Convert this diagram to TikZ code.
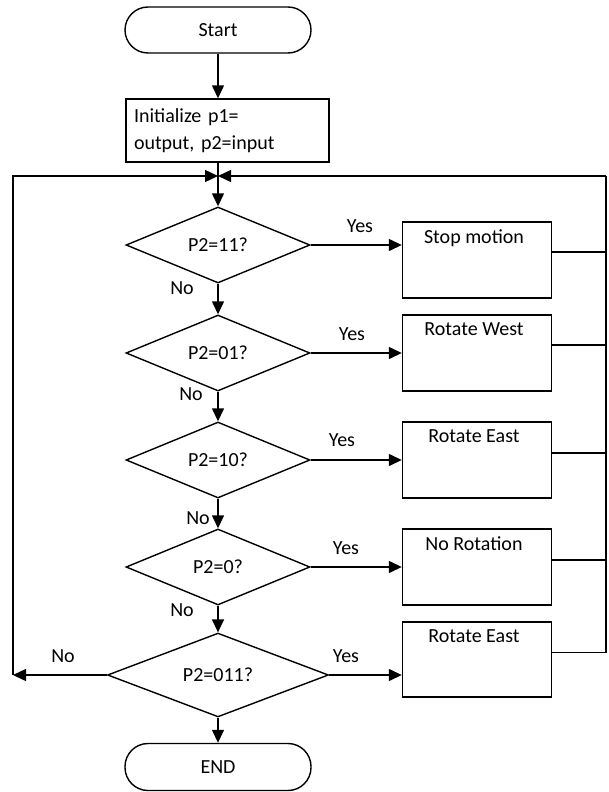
\documentclass[tikz,border=0pt]{standalone}
\usepackage{fontspec}
\setmainfont{Carlito}
\usetikzlibrary{arrows.meta,shapes.geometric}
\begin{document}
\begin{tikzpicture}[x=1pt,y=-1pt,line width=1.4pt,
	font=\fontsize{20}{27}\selectfont,
	>={Triangle[length=13pt,width=12pt]},
	term/.style={draw,rounded corners=23pt,minimum width=186pt,minimum height=46pt},
	cond/.style={draw,diamond,inner sep=0pt,minimum width=184pt,minimum height=76pt},
	act/.style={draw,minimum width=149pt,minimum height=76pt},
	acttext/.style={anchor=north,yshift=-4pt,xshift=-3pt}]
	\useasboundingbox (0,0) rectangle (608,792);

	\node[term] (start) at (218,30) {Start};
	\node[draw,minimum width=203pt,minimum height=63pt,inner xsep=8pt,text width=187pt,align=left] (init) at (227.5,130.5) {Initialize p1=\\output, p2=input};
	\node[cond] (d1) at (218,245) {P2=11?};
	\node[cond] (d2) at (218,353) {P2=01?};
	\node[cond] (d3) at (218,460) {P2=10?};
	\node[cond] (d4) at (218,567) {P2=0?};
	\node[cond,minimum width=221pt,minimum height=75pt] (d5) at (218,675) {P2=011?};
	\node[term,minimum height=47pt] (end) at (218,767) {END};

	\node[act,label={[acttext]north:Stop motion}] (b1) at (477,260) {};
	\node[act,label={[acttext]north:Rotate West}] (b2) at (477,353) {};
	\node[act,label={[acttext]north:Rotate East}] (b3) at (477,460) {};
	\node[act,label={[acttext]north:No Rotation}] (b4) at (477,567) {};
	\node[act,minimum height=75pt,label={[acttext]north:Rotate East}] (b5) at (477,659.5) {};

	\node (yes1) at (360,226) {Yes};
	\node (yes2) at (352,334) {Yes};
	\node (yes3) at (342,440) {Yes};
	\node (yes4) at (346,548) {Yes};
	\node (yes5) at (346,656) {Yes};
	\node (no1) at (182,288) {No};
	\node (no2) at (191,394) {No};
	\node (no3) at (198,518) {No};
	\node (no4) at (182,610) {No};
	\node (no5) at (63,656) {No};

	\coordinate (join) at (218,176);
	\coordinate (rtop) at (606,176);
	\coordinate (ltop) at (13,176);
	\coordinate (lbot) at (13,675);

	\draw[->] (start) -- (start |- init.north);
	\draw[->] (start |- init.south) -- (d1);
	\draw[->] (d1) -- (d2);
	\draw[->] (d2) -- (d3);
	\draw[->] (d3) -- (d4);
	\draw[->] (d4) -- (d5);
	\draw[->] (d5) -- (end);

	\draw[->] (d1.east) -- (d1.east -| b1.west);
	\draw[->] (d2.east) -- (d2.east -| b2.west);
	\draw[->] (d3.east) -- (d3.east -| b3.west);
	\draw[->] (d4.east) -- (d4.east -| b4.west);
	\draw[->] (d5.east) -- (d5.east -| b5.west);

	\draw ([yshift=8pt]b1.east) -- ([yshift=8pt]b1.east -| rtop);
	\draw ([yshift=8pt]b2.east) -- ([yshift=8pt]b2.east -| rtop);
	\draw ([yshift=7pt]b3.east) -- ([yshift=7pt]b3.east -| rtop);
	\draw ([yshift=7pt]b4.east) -- ([yshift=7pt]b4.east -| rtop);
	\draw ([yshift=7pt]b5.east) -- ([yshift=7pt]b5.east -| rtop) -- (rtop);
	\draw[->] (rtop) -- (join);

	\draw[->] (d5.west) -- (lbot);
	\draw[->] (lbot) -- (ltop) -- (join);
\end{tikzpicture}
\end{document}
